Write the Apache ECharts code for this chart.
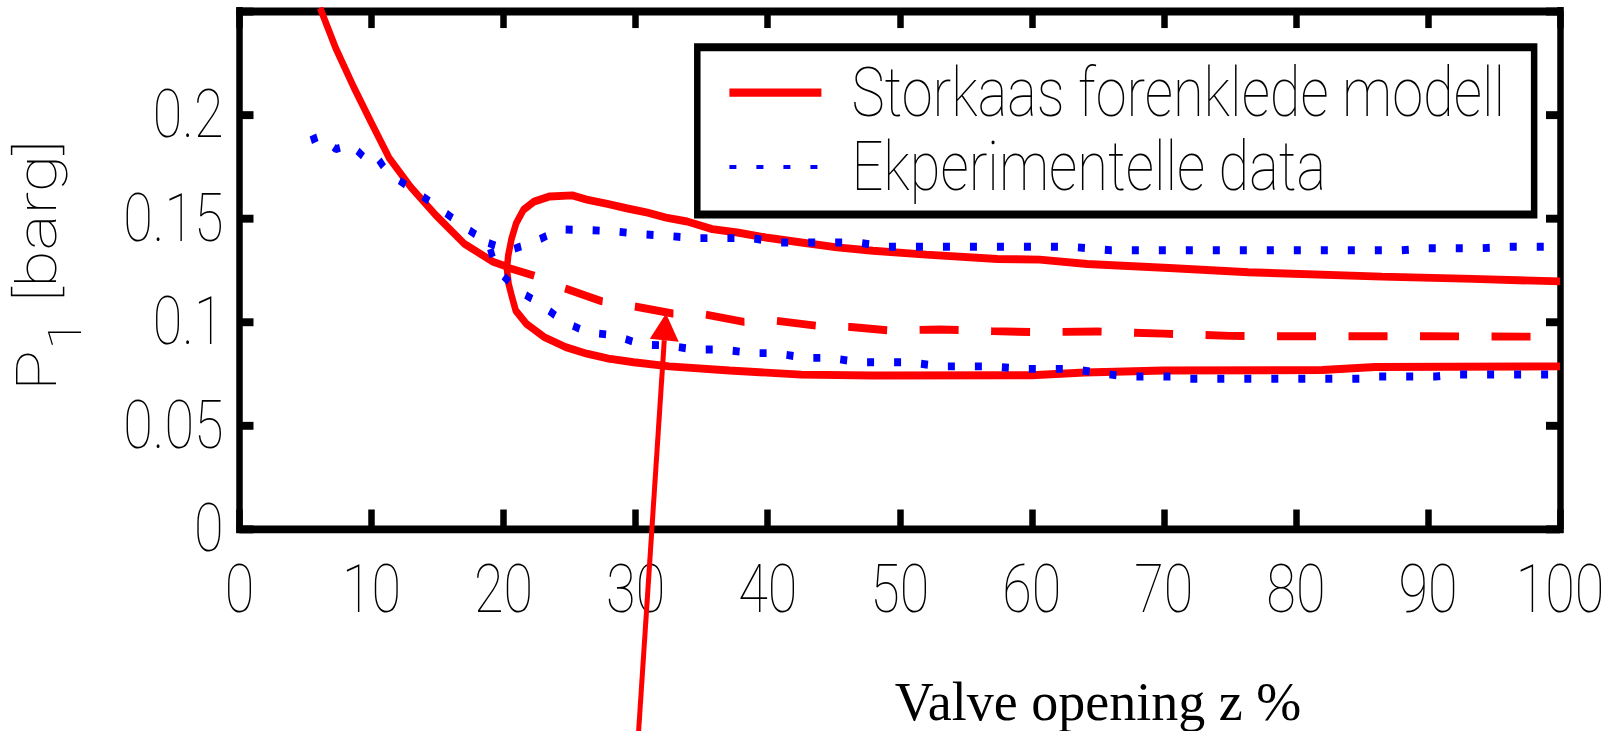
<!DOCTYPE html>
<html>
<head>
<meta charset="utf-8">
<title>P1 vs valve opening</title>
<script src="https://cdn.jsdelivr.net/npm/echarts@6/dist/echarts.min.js"></script>
<style>
  html, body { margin: 0; padding: 0; background: #fff; overflow: hidden; width: 1618px; height: 731px; }
  /* the figure is drawn at 600px height and stretched vertically to fill the page */
  #chart { width: 1618px; height: 600px; transform: scaleY(1.2183333); transform-origin: 0 0; }
</style>
</head>
<body>
<div id="chart"></div>
<script>
const STRETCH = 731 / 600;

// axis ticks
const xTickValues = [0, 10, 20, 30, 40, 50, 60, 70, 80, 90, 100];
const yTickValues = [0, 0.05, 0.1, 0.15, 0.2, 0.25];
const yTickLabels = ['0', '0.05', '0.1', '0.15', '0.2', ''];

// legend / titles
const legendNames = ['Storkaas forenklede modell', 'Ekperimentelle data'];
const unstableName = 'Ustabil likevekt';
const xTitle = 'Valve opening z %';

// model: stable steady-state branch [z %, P1 barg]
const modelStable = [
  [6.1, 0.2515], [7.29, 0.232], [8.64, 0.2134], [9.99, 0.196], [11.34, 0.179],
  [12.97, 0.165], [14.86, 0.1515], [17.02, 0.1377], [19.19, 0.129], [20.27, 0.1266]
];
// model: limit cycle maximum
const modelCycleMax = [
  [20.25, 0.1255], [20.35, 0.132], [20.6, 0.140], [20.95, 0.1475], [21.5, 0.154],
  [22.3, 0.158], [23.5, 0.1605], [25.2, 0.161], [26.3, 0.159], [27.95, 0.1568],
  [29.3, 0.1548], [30.9, 0.1527], [32.3, 0.1503], [33.9, 0.1484], [35.8, 0.1447],
  [37.7, 0.1431], [39.85, 0.1407], [42.55, 0.1383], [45.25, 0.1359], [47.97, 0.1343],
  [52, 0.1324], [57.4, 0.1303], [60.6, 0.13], [64.2, 0.1279], [70.4, 0.126],
  [76.4, 0.1239], [86.5, 0.1218], [93.4, 0.1207], [100, 0.1195]
];
// model: limit cycle minimum
const modelCycleMin = [
  [20.25, 0.1255], [20.38, 0.1183], [20.64, 0.1118], [20.92, 0.1054], [21.73, 0.099],
  [23.08, 0.0926], [24.7, 0.0878], [26.3, 0.0846], [27.95, 0.0822], [29.85, 0.0805],
  [32.55, 0.0785], [37.1, 0.0765], [42.55, 0.0745], [48, 0.0741], [60, 0.0742],
  [64, 0.0755], [70, 0.0765], [82, 0.0767], [86, 0.0782], [100, 0.0785]
];
// model: unstable steady-state branch
const modelUnstable = [
  [20.27, 0.1262], [22.3, 0.1223], [24.7, 0.116], [27.4, 0.110], [29.85, 0.1075],
  [32.8, 0.104], [35.3, 0.1035], [38.2, 0.1], [40.6, 0.1005], [43.8, 0.098],
  [46.3, 0.0975], [49.2, 0.0958], [53, 0.0963], [57, 0.0955], [60.3, 0.095],
  [65, 0.0953], [70, 0.0943], [75, 0.0932], [80, 0.093], [90, 0.093], [100, 0.0928]
];

// experiments: steady part and the lower envelope
const expSteady = [
  [5.4, 0.1876], [6.2, 0.190], [7.3, 0.1833], [8.4, 0.1858], [9.45, 0.1793],
  [10.2, 0.1816], [11.2, 0.172], [13.2, 0.1635], [15.1, 0.155], [16.9, 0.1463],
  [18.86, 0.138]
];
const expLower = [
  [19.38, 0.1263], [20.9, 0.1159], [22.8, 0.1086], [24.4, 0.1006], [26.3, 0.095],
  [28.5, 0.0934], [30.4, 0.089], [32.5, 0.0886], [34.4, 0.0866], [36.6, 0.0866],
  [38.8, 0.0849], [40.6, 0.0849], [42.8, 0.0826], [44.8, 0.0826], [46.8, 0.0805],
  [50.8, 0.0805], [53, 0.0785], [57, 0.0785], [59.2, 0.0773], [63, 0.0773],
  [67, 0.0736], [71, 0.0736], [72, 0.0725], [85, 0.0725], [86, 0.0736],
  [90.6, 0.0736], [92, 0.0746], [100, 0.0746]
];
// experiments: upper envelope
const expUpper = [
  [18.86, 0.138], [20.4, 0.1343], [22.3, 0.1386], [24.3, 0.1446], [26.3, 0.1443],
  [28.5, 0.1436], [30.4, 0.1423], [32.5, 0.1414], [34.4, 0.1404], [38.8, 0.1404],
  [40.7, 0.1383], [46.8, 0.1383], [48.9, 0.1362], [63, 0.1362], [66, 0.1345],
  [88, 0.1345], [90, 0.1355], [94, 0.1355], [96, 0.1362], [100, 0.1362]
];

// annotation arrow: [z tail, P tail, z tip, P tip]
const arrowLine = [30.2, -0.1, 32.3, 0.104];

const SANS = 'Roboto, "Liberation Sans", Arial, sans-serif';
const SERIF = '"Liberation Serif", "Times New Roman", serif';
const RED = '#ff0000';
const BLUE = '#0000ff';

const cyclePath = modelCycleMax.slice().reverse().concat(modelCycleMin.slice(1));
const expPath = expSteady.concat(expLower);

function frameAxis(pos, isX, tickLen, withLabels) {
  const base = {
    type: 'value',
    position: pos,
    min: 0,
    max: isX ? 100 : 0.25,
    interval: isX ? 10 : 0.05,
    splitLine: { show: false },
    axisLine: { show: true, onZero: false, lineStyle: { color: '#000', width: 6.5, cap: 'square' } },
    axisTick: { show: true, inside: true, length: tickLen, lineStyle: { color: '#000', width: 6.5 } },
    axisLabel: { show: false }
  };
  if (withLabels) {
    base.axisLabel = {
      show: true,
      fontFamily: SANS,
      fontWeight: 100,
      fontSize: 54,
      color: '#000',
      margin: isX ? 23 : 16,
      formatter: isX
        ? function (v) { return String(xTickValues[Math.round(v / 10)]); }
        : function (v) { const i = Math.round(v / 0.05); return yTickLabels[i] !== undefined ? yTickLabels[i] : ''; }
    };
  }
  return base;
}

const chart = echarts.init(document.getElementById('chart'), null, { renderer: 'svg' });

chart.setOption({
  animation: false,
  backgroundColor: '#fff',
  grid: { left: 239.5, right: 58, top: 9.03, bottom: 165.8, containLabel: false, outerBoundsMode: 'none' },
  xAxis: [frameAxis('bottom', true, 16, true), frameAxis('top', true, 14, false)],
  yAxis: [frameAxis('left', false, 14, true), frameAxis('right', false, 14, false)],
  legend: {
    data: [
      { name: legendNames[0], lineStyle: { width: 6.8 } },
      { name: legendNames[1], lineStyle: { width: 3.3, type: [7, 20] } }
    ],
    orient: 'vertical',
    left: 697.3,
    top: 38.8,
    padding: [9.2, 29, 11, 28.7],
    itemWidth: 92,
    itemHeight: 14,
    itemGap: 5,
    selectedMode: false,
    backgroundColor: '#fff',
    borderColor: '#000',
    borderWidth: 6.5,
    borderRadius: 0,
    itemStyle: { color: 'rgba(0,0,0,0)', borderWidth: 0, opacity: 0 },
    textStyle: { fontFamily: SANS, fontWeight: 100, fontSize: 56, color: '#000', padding: [0, 0, 0, 25] }
  },
  graphic: [
    {
      type: 'text',
      x: 36.5,
      y: 218,
      rotation: Math.PI / 2,
      silent: true,
      style: {
        text: '{p|P}{s|1}{p| [barg]}',
        align: 'center',
        verticalAlign: 'middle',
        fill: '#000',
        rich: {
          p: { fontFamily: SANS, fontWeight: 100, fontSize: 56, fill: '#000' },
          s: { fontFamily: SANS, fontWeight: 100, fontSize: 47, fill: '#000', padding: [56, 0, 0, 0] }
        }
      }
    },
    {
      type: 'text',
      x: 1098,
      y: 702 / STRETCH,
      scaleY: 1 / STRETCH,
      silent: true,
      style: { text: xTitle, font: '54px ' + SERIF, fill: '#000', align: 'center', verticalAlign: 'middle' }
    }
  ],
  series: [
    {
      name: legendNames[0], type: 'line', data: modelStable, color: RED,
      symbol: 'none', showSymbol: false, silent: true, z: 2,
      lineStyle: { color: RED, width: 6.5 }
    },
    {
      name: legendNames[0], type: 'line', data: cyclePath, color: RED,
      symbol: 'none', showSymbol: false, silent: true, z: 2,
      lineStyle: { color: RED, width: 6.5 }
    },
    {
      name: unstableName, type: 'line', data: modelUnstable, color: RED,
      symbol: 'none', showSymbol: false, silent: true, z: 2,
      lineStyle: { color: RED, width: 6.5, type: [39, 32.5], dashOffset: 11 }
    },
    {
      name: legendNames[1], type: 'line', data: expPath, color: BLUE,
      symbol: 'none', showSymbol: false, silent: true, z: 3,
      lineStyle: { color: BLUE, width: 6.5, type: [7, 20] }
    },
    {
      name: legendNames[1], type: 'line', data: expUpper, color: BLUE,
      symbol: 'none', showSymbol: false, silent: true, z: 3,
      lineStyle: { color: BLUE, width: 6.5, type: [7, 20] }
    },
    {
      name: 'pil', type: 'custom', silent: true, z: 5, clip: false,
      data: [arrowLine],
      renderItem: function (params, api) {
        const p0 = api.coord([api.value(0), api.value(1)]);
        const p1 = api.coord([api.value(2), api.value(3)]);
        const dx = p1[0] - p0[0], dy = p1[1] - p0[1];
        const len = Math.hypot(dx, dy);
        const ux = dx / len, uy = dy / len;
        const headLen = 22, halfW = 14.5;
        const bx = p1[0] - ux * headLen, by = p1[1] - uy * headLen;
        const nx = -uy, ny = ux;
        return {
          type: 'group',
          children: [
            { type: 'line', shape: { x1: p0[0], y1: p0[1], x2: bx, y2: by }, style: { stroke: RED, lineWidth: 5 } },
            { type: 'polygon', shape: { points: [[p1[0], p1[1]], [bx + nx * halfW, by + ny * halfW], [bx - nx * halfW, by - ny * halfW]] }, style: { fill: RED } }
          ]
        };
      }
    }
  ]
});
</script>
</body>
</html>
